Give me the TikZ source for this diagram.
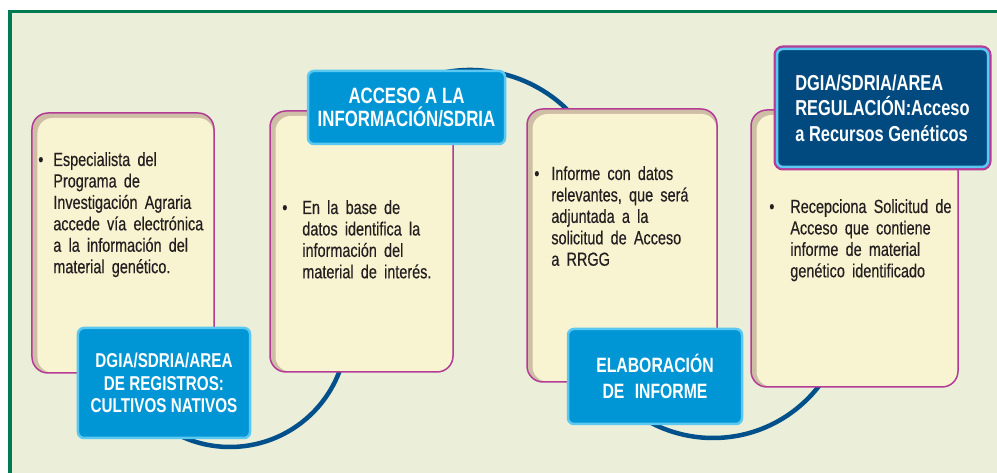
\documentclass[tikz,border=0pt]{standalone}
\usepackage{fontspec}
\setmainfont{Liberation Sans}[FakeStretch=0.76]
\newfontfamily\cuerpo{Liberation Sans}[FakeStretch=0.76, FakeBold=0.35]
\usepackage{array}
\usetikzlibrary{calc}

\definecolor{fondo}{RGB}{235,238,216}
\definecolor{marco}{RGB}{0,122,82}
\definecolor{crema}{RGB}{248,243,208}
\definecolor{sombra}{RGB}{205,190,165}
\definecolor{borde}{RGB}{180,60,150}
\definecolor{azul}{RGB}{0,150,214}
\definecolor{celeste}{RGB}{90,200,240}
\definecolor{azuloscuro}{RGB}{0,74,128}
\definecolor{azularco}{RGB}{0,80,140}
\definecolor{gristexto}{RGB}{35,31,32}

\newcommand{\vineta}[2]{\spaceskip=0.38em plus 0.1em\relax
    \begin{tabular}[t]{@{}p{#1}@{}l@{}}\textbullet & \begin{tabular}[t]{@{}l@{}}#2\end{tabular}\end{tabular}}

\tikzset{
    caja/.style={rectangle, rounded corners=3.2mm, draw=borde, line width=0.3mm, fill=sombra,
        path picture={\fill[crema, rounded corners=3mm] ([xshift=1.1mm,yshift=-1mm]path picture bounding box.north west) rectangle ([xshift=-0.1mm,yshift=0.1mm]path picture bounding box.south east);}},
    etiqueta/.style={rectangle, rounded corners=1.2mm, fill=azul, draw=celeste, line width=0.5mm, text=white, align=center, font=\bfseries\fontsize{11.5}{13}\selectfont},
    lista/.style={anchor=base west, inner sep=0pt, text=gristexto, font=\cuerpo\fontsize{10.8}{12.2}\selectfont},
    enlace/.style={draw=azularco, line width=0.9mm}
}

\begin{document}
\begin{tikzpicture}[x=0.2mm, y=0.2mm]
        \useasboundingbox (0,0) rectangle (997,473);
        \fill[white] (0,0) rectangle (997,473);
        \fill[fondo] (8,0) rectangle (997,463);
        \draw[marco, line width=0.7mm] (10,0) |- (997,461.5);

        \coordinate (c1) at (230,143);
        \coordinate (c2) at (470,264);
        \coordinate (c3) at (713,169);

        \draw[enlace] (c1) ++(235:117) arc[start angle=235, end angle=360, radius=117];
        \draw[enlace] (c2) ++(150:139) arc[start angle=150, end angle=20, radius=139];
        \draw[enlace] (c3) ++(220:134) arc[start angle=220, end angle=340, radius=134];

        \node[caja, minimum width=36.4mm, minimum height=52mm] (caja1) at (123,230) {};
        \node[caja, minimum width=36.6mm, minimum height=52.2mm] (caja2) at (361.5,231.5) {};
        \node[caja, minimum width=38mm, minimum height=54.6mm] (caja3) at (622,227.5) {};
        \node[caja, minimum width=41.4mm, minimum height=55.4mm] (caja4) at (854.5,224.5) {};

        \node[lista] (texto1) at (38,307) {\vineta{3mm}{Especialista del\\Programa de\\Investigación Agraria\\accede vía electrónica\\a la información del\\material genético.}};
        \node[lista] (texto2) at (282,259) {\vineta{4mm}{En la base de\\datos identifica la\\información del\\material de interés.}};
        \node[lista] (texto3) at (534,293) {\vineta{3.4mm}{Informe con datos\\relevantes, que será\\adjuntada a la\\solicitud de Acceso\\a RRGG}};
        \node[lista] (texto4) at (769,260) {\vineta{4.2mm}{Recepciona Solicitud de\\Acceso que contiene\\informe de material\\genético identificado}};

        \node[etiqueta, minimum width=34.4mm, minimum height=22mm, font=\bfseries\fontsize{11.4}{13}\selectfont] (registros) at (164,90) {DGIA/SDRIA/AREA\\DE REGISTROS:\\CULTIVOS NATIVOS};
        \node[etiqueta, minimum width=39.4mm, minimum height=14.6mm, font=\bfseries\fontsize{12.6}{13.6}\selectfont] (acceso) at (406.5,365.5) {ACCESO A LA\\INFORMACIÓN/SDRIA};
        \node[etiqueta, minimum width=34.8mm, minimum height=19mm, font=\bfseries\fontsize{11.8}{14.6}\selectfont] (informe) at (655,96.5) {ELABORACIÓN\\DE\enspace INFORME};
        \node[etiqueta, fill=azuloscuro, align=left, minimum width=42.2mm, minimum height=23.6mm, font=\bfseries\fontsize{12.3}{14.4}\selectfont,
            preaction={draw=borde, line width=1.4mm}] (regulacion) at (882.5,365) {DGIA/SDRIA/AREA\\REGULACIÓN:Acceso\\a Recursos Genéticos};
\end{tikzpicture}
\end{document}
